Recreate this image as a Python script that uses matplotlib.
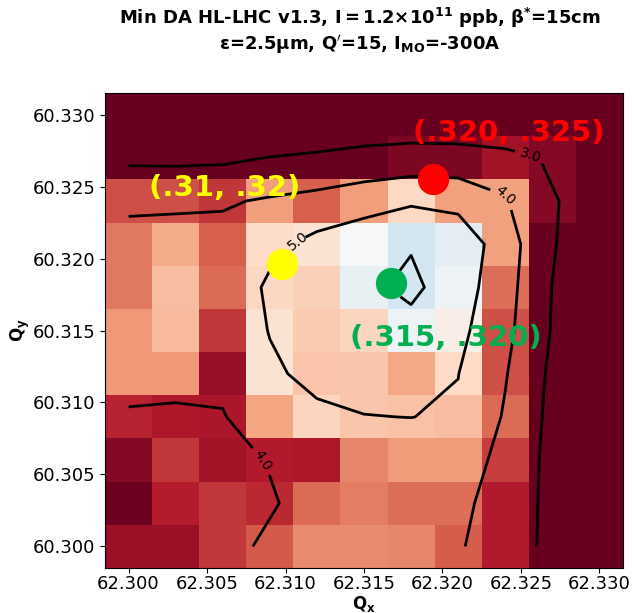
import numpy as np
import matplotlib
matplotlib.use("Agg")
import matplotlib.pyplot as plt

# ---------------- data ----------------
qx = [62.300, 62.303, 62.306, 62.309, 62.312, 62.315, 62.318, 62.321, 62.324, 62.327, 62.330]
qy = [60.300, 60.303, 60.306, 60.309, 60.312, 60.315, 60.318, 60.321, 60.324, 60.327, 60.330]

# colour-map values (rows from bottom qy[0] to top qy[10])
da_cells = [
    [3.34, 3.34, 3.74, 3.97, 4.31, 4.32, 4.27, 3.98, 3.52, 2.00, 2.00],
    [3.05, 3.53, 3.71, 3.62, 4.09, 4.22, 4.11, 4.11, 3.52, 2.00, 2.00],
    [3.21, 3.72, 3.41, 3.52, 3.48, 4.27, 4.43, 4.43, 3.78, 2.00, 2.00],
    [3.58, 3.47, 3.46, 4.51, 4.94, 4.80, 4.77, 4.73, 4.08, 2.00, 2.00],
    [4.42, 4.42, 3.32, 5.14, 4.79, 4.81, 4.53, 5.00, 3.89, 2.00, 2.00],
    [4.42, 4.70, 3.71, 5.13, 4.85, 4.94, 5.63, 5.34, 3.89, 2.00, 2.00],
    [4.19, 4.73, 4.09, 4.96, 4.90, 5.68, 5.96, 5.62, 4.11, 2.00, 2.00],
    [4.19, 4.57, 4.00, 5.02, 5.14, 5.50, 5.96, 5.76, 4.48, 2.00, 2.00],
    [3.89, 3.89, 3.71, 4.46, 4.00, 4.46, 4.99, 4.48, 4.48, 3.21, 2.00],
    [2.00, 2.00, 2.00, 2.00, 2.00, 2.00, 3.15, 3.15, 3.41, 3.21, 2.00],
    [2.00, 2.00, 2.00, 2.00, 2.00, 2.00, 2.00, 2.00, 2.00, 2.00, 2.00],
]

# values used for the contour lines (rows from bottom to top)
da_contour = [
    [3.50, 3.45, 3.52, 4.27, 4.40, 4.40, 4.35, 4.07, 3.60, 2.70, 2.00],
    [3.30, 3.50, 3.60, 3.85, 4.60, 4.50, 4.40, 4.16, 3.70, 2.69, 2.00],
    [3.30, 3.60, 3.50, 4.09, 4.40, 4.50, 4.50, 4.34, 3.80, 2.69, 2.00],
    [3.85, 3.80, 3.95, 4.575, 4.82, 4.98, 5.01, 4.90, 3.91, 2.75, 2.00],
    [4.50, 4.41, 4.21, 4.85, 5.245, 5.30, 5.40, 5.014, 4.06, 2.81, 2.00],
    [4.50, 4.60, 4.30, 5.037, 5.40, 5.60, 5.70, 5.25, 4.25, 2.94, 2.00],
    [4.40, 4.60, 4.30, 5.16, 5.50, 5.80, 6.20, 5.49, 4.36, 2.98, 2.00],
    [4.36, 4.35, 4.32, 4.75, 5.30, 5.60, 5.93, 5.70, 4.44, 3.10, 2.00],
    [3.80, 3.85, 3.90, 4.10, 4.27, 4.60, 4.87, 4.69, 4.07, 3.10, 2.40],
    [2.82, 2.79, 2.83, 3.02, 3.20, 3.24, 3.34, 3.39, 3.53, 2.80, 2.00],
    [2.00, 2.00, 2.00, 2.00, 1.66, 2.35, 2.34, 2.17, 1.00, 1.00, 1.00],
]

contour_levels = [3.0, 4.0, 5.0, 6.0]
contour_label_pos = [(62.3256, 60.3272), (62.3240, 60.3244), (62.3090, 60.3062),
                     (62.3106, 60.3217), (62.3161, 60.3176)]

marker_x = [62.3098, 62.3194, 62.3167]
marker_y = [60.3196, 60.3255, 60.3183]
marker_colors = ['#ffff00', '#ff0000', '#00b050']
label_texts = ['(.31, .32)', '(.320, .325)', '(.315, .320)']
label_x = [62.3013, 62.3181, 62.3141]
label_y = [60.3249, 60.3287, 60.3145]

x_ticks = [62.300, 62.305, 62.310, 62.315, 62.320, 62.325, 62.330]
y_ticks = [60.300, 60.305, 60.310, 60.315, 60.320, 60.325, 60.330]

title_1 = r"Min DA HL-LHC v1.3, $\mathbf{I = 1.2{\times}10^{11}}$ ppb, $\mathbf{\beta^{*}}$=15cm"
title_2 = r"ε=2.5μm, $\mathbf{Q^{\prime}}$=15, $\mathbf{I_{MO}}$=-300A"

# ---------------- figure ----------------
W, H = 634, 613
fig = plt.figure(figsize=(W / 100, H / 100), dpi=100)
ax = fig.add_axes([105 / W, 1 - 568 / H, (623 - 105) / W, (568 - 93) / H])

X = np.array(qx)
Y = np.array(qy)
ax.pcolormesh(X, Y, np.array(da_cells), cmap='RdBu', vmin=3.0, vmax=8.0,
              shading='nearest')

cs = ax.contour(X, Y, np.array(da_contour), levels=contour_levels,
                colors='k', linewidths=2.0)
ax.clabel(cs, fmt='%.1f', fontsize=10, inline=True, manual=contour_label_pos)

for mx, my, mc in zip(marker_x, marker_y, marker_colors):
    ax.plot([mx], [my], 'o', ms=21.5, color=mc, mec=mc, zorder=5)

for tx, ty, tt, tc in zip(label_x, label_y, label_texts, marker_colors):
    ax.text(tx, ty, tt, color=tc, fontsize=21, fontweight='bold',
            ha='left', va='center', zorder=6)

ax.set_xlim(62.2985, 62.3315)
ax.set_ylim(60.2985, 60.3315)
ax.set_xticks(x_ticks)
ax.set_yticks(y_ticks)
ax.set_xticklabels([f"{v:.3f}" for v in x_ticks])
ax.set_yticklabels([f"{v:.3f}" for v in y_ticks])
ax.tick_params(labelsize=13)
ax.tick_params(axis='x', pad=1.5)
ax.set_xlabel(r"$\mathbf{Q_x}$", fontsize=12, labelpad=0.5)
ax.set_ylabel(r"$\mathbf{Q_y}$", fontsize=12, labelpad=0)

fig.text(360 / W, 1 - 18 / H, title_1, ha='center', va='center',
         fontsize=13, fontweight='bold')
fig.text(360 / W, 1 - 45 / H, title_2, ha='center', va='center',
         fontsize=13, fontweight='bold')

fig.savefig("out.png", dpi=100)
